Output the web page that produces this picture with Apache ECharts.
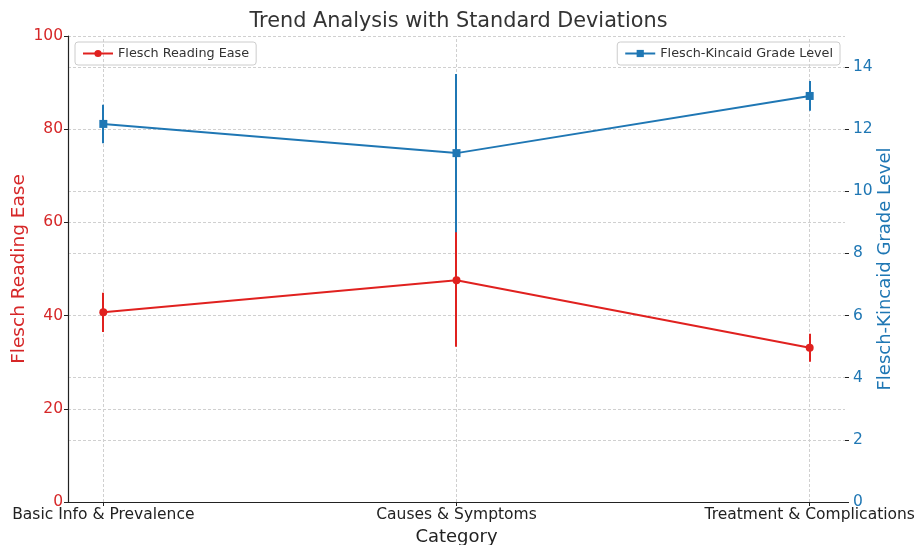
<!DOCTYPE html>
<html>
<head>
<meta charset="utf-8">
<script src="https://cdn.jsdelivr.net/npm/echarts@6/dist/echarts.min.js"></script>
<style>html,body{margin:0;padding:0;background:#fff;}#c{width:917px;height:545px;}</style>
</head>
<body>
<div id="c"></div>
<script>
const categories = ['Basic Info & Prevalence', 'Causes & Symptoms', 'Treatment & Complications'];
const freMean = [40.7, 47.6, 33.1];
const freStd = [4.2, 14.3, 3.0];
const fkglMean = [12.17, 11.23, 13.07];
const fkglStd = [0.62, 2.55, 0.48];
const leftTicks = [0, 20, 40, 60, 80, 100];
const rightTicks = [0, 2, 4, 6, 8, 10, 12, 14];

const RED = '#e0211f';
const RED_TXT = '#d62728';
const BLUE = '#1f77b4';
const FONT = 'DejaVu Sans';

const idx = categories.map((_, i) => i);
const freLine = idx.map(i => [i, freMean[i]]);
const fkglLine = idx.map(i => [i, fkglMean[i]]);
const freErr = idx.map(i => [i, freMean[i], freStd[i]]);
const fkglErr = idx.map(i => [i, fkglMean[i], fkglStd[i]]);

function errRender(color) {
  return function (params, api) {
    const x = api.value(0), m = api.value(1), s = api.value(2);
    const a = api.coord([x, m + s]);
    const b = api.coord([x, m - s]);
    const px = Math.round(a[0]);
    return {type: 'line', shape: {x1: px, y1: a[1], x2: px, y2: b[1]}, style: {stroke: color, lineWidth: 2}};
  };
}

const legendCommon = {
  orient: 'vertical', borderColor: '#ccc', borderWidth: 1, borderRadius: 3, padding: [5, 7],
  itemWidth: 30, itemHeight: 9,
  textStyle: {fontFamily: FONT, fontSize: 12.8, color: '#333'}
};

const chart = echarts.init(document.getElementById('c'));
chart.setOption({
  animation: false,
  textStyle: {fontFamily: FONT},
  title: {
    text: 'Trend Analysis with Standard Deviations',
    left: 'center', top: 6,
    textStyle: {fontFamily: FONT, fontSize: 20.8, fontWeight: 'normal', color: '#333'}
  },
  legend: [
    Object.assign({data: ['Flesch Reading Ease'], left: 75, top: 42}, legendCommon),
    Object.assign({data: ['Flesch-Kincaid Grade Level'], right: 77, top: 42}, legendCommon)
  ],
  grid: {left: 68, right: 72, top: 36, bottom: 43, containLabel: false, outerBoundsMode: 'none'},
  xAxis: {
    type: 'value', min: -0.1, max: 2.1,
    name: 'Category', nameLocation: 'middle', nameGap: 26,
    nameTextStyle: {fontFamily: FONT, fontSize: 18, color: '#222'},
    axisLine: {show: true, onZero: false, lineStyle: {color: '#222', width: 1.2}},
    axisTick: {show: true, customValues: idx, length: 4, lineStyle: {color: '#222'}},
    axisLabel: {customValues: idx, formatter: v => categories[Math.round(v)] || '',
      fontFamily: FONT, fontSize: 15.5, color: '#222', margin: 5},
    splitLine: {show: false}
  },
  yAxis: [
    {type: 'value', min: 0, max: 100, interval: 20, position: 'left',
     name: 'Flesch Reading Ease', nameLocation: 'middle', nameGap: 39, nameRotate: 90,
     nameMoveOverlap: false,
     nameTextStyle: {fontFamily: FONT, fontSize: 18.5, color: RED_TXT},
     axisLine: {show: true, onZero: false, lineStyle: {color: '#222', width: 1.2}},
     axisTick: {show: true, length: 4, lineStyle: {color: '#222'}},
     axisLabel: {fontFamily: FONT, fontSize: 15.5, color: RED_TXT, margin: 5,
       customValues: leftTicks},
     splitLine: {show: true, lineStyle: {color: '#d0d0d0', type: [3, 2], width: 1}}},
    {type: 'value', min: 0, max: 15, interval: 2, position: 'right',
     name: 'Flesch-Kincaid Grade Level', nameLocation: 'middle', nameGap: 31, nameRotate: 90,
     nameMoveOverlap: false,
     nameTextStyle: {fontFamily: FONT, fontSize: 18, color: BLUE},
     axisLine: {show: false, onZero: false},
     axisTick: {show: true, length: 4, lineStyle: {color: '#222'}, customValues: rightTicks},
     axisLabel: {fontFamily: FONT, fontSize: 15.5, color: BLUE, margin: 8, customValues: rightTicks},
     splitLine: {show: true, lineStyle: {color: '#d0d0d0', type: [3, 2], width: 1}}}
  ],
  series: [
    {name: 'Flesch Reading Ease', type: 'line', yAxisIndex: 0, data: freLine,
     symbol: 'circle', symbolSize: 8, itemStyle: {color: RED}, lineStyle: {color: RED, width: 2}, z: 3,
     markLine: {silent: true, symbol: 'none', label: {show: false},
       lineStyle: {color: '#d0d0d0', type: [3, 2], width: 1},
       data: idx.map(i => ({xAxis: i})), z: 1}},
    {name: 'fre-err', type: 'custom', yAxisIndex: 0, data: freErr,
     renderItem: errRender(RED), z: 3, silent: true},
    {name: 'Flesch-Kincaid Grade Level', type: 'line', yAxisIndex: 1, data: fkglLine,
     symbol: 'rect', symbolSize: 8, itemStyle: {color: BLUE}, lineStyle: {color: BLUE, width: 2}, z: 5},
    {name: 'fkgl-err', type: 'custom', yAxisIndex: 1, data: fkglErr,
     renderItem: errRender(BLUE), z: 5, silent: true}
  ]
});
</script>
</body>
</html>
